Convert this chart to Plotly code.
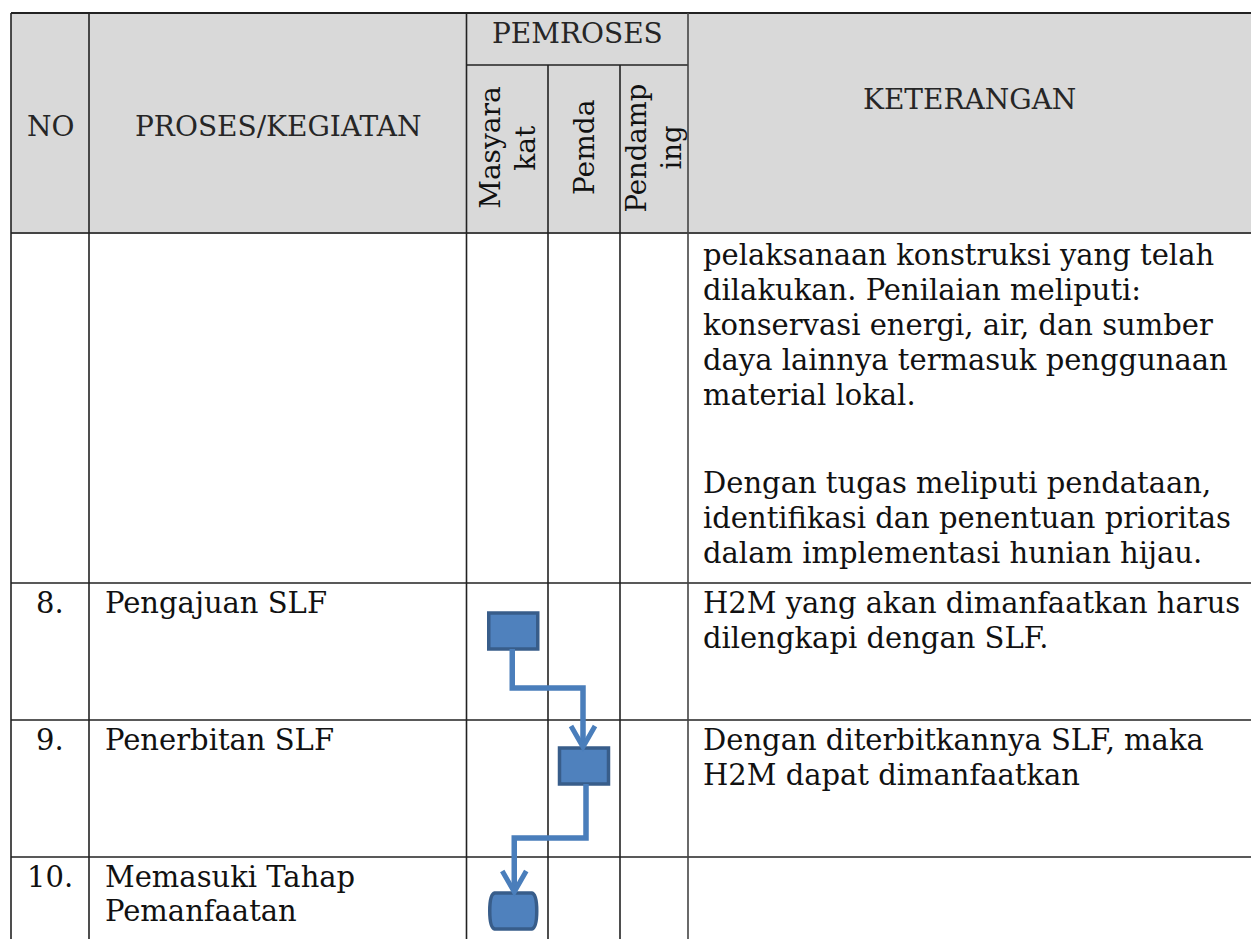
import plotly.graph_objects as go

# ---------------- data ----------------
header_no = "NO"
header_process = "PROSES/KEGIATAN"
header_group = "PEMROSES"
lanes = [["Masyara", "kat"], ["Pemda"], ["Pendamp", "ing"]]
header_ket = "KETERANGAN"

row_numbers = ["", "8.", "9.", "10."]
row_process = [[], ["Pengajuan SLF"], ["Penerbitan SLF"], ["Memasuki Tahap", "Pemanfaatan"]]
row_keterangan = [
    [["pelaksanaan konstruksi yang telah",
      "dilakukan. Penilaian meliputi:",
      "konservasi energi, air, dan sumber",
      "daya lainnya termasuk penggunaan",
      "material lokal."],
     ["Dengan tugas meliputi pendataan,",
      "identifikasi dan penentuan prioritas",
      "dalam implementasi hunian hijau."]],
    [["H2M yang akan dimanfaatkan harus",
      "dilengkapi dengan SLF."]],
    [["Dengan diterbitkannya SLF, maka",
      "H2M dapat dimanfaatkan"]],
    [[]],
]
# flow steps: (row index, lane index, kind)
flow_rows = [1, 2, 3]
flow_lanes = [0, 1, 0]
flow_kinds = ["process", "process", "terminal"]

# ---------------- layout constants ----------------
W, H = 1251, 939
col_x = [11, 89, 466.5, 548, 620, 688, 1251]
top_y, group_y, head_y = 13, 65, 233
row_y = [233, 583, 720, 857, 939]
FONT = "DejaVu Serif"
FS = 29
HFS = 28
LINE_H = 35
TXT = "#111111"
HTXT = "#262626"
GRID = "#222222"
BOX_FILL = "#4f81bd"
BOX_LINE = "#385d8a"
CONN = "#4a7ebb"

shapes = []
ann = []

# header background
shapes.append(dict(type="rect", x0=col_x[0], x1=W, y0=top_y, y1=head_y,
                   fillcolor="#d9d9d9", line=dict(width=0), layer="below"))

def hline(y, x0, x1, w=1.6, c=GRID):
    shapes.append(dict(type="line", x0=x0, x1=x1, y0=y, y1=y, line=dict(color=c, width=w)))

def vline(x, y0, y1, w=1.6, c=GRID):
    shapes.append(dict(type="line", x0=x, x1=x, y0=y0, y1=y1, line=dict(color=c, width=w)))

hline(top_y, col_x[0], W, 2)
hline(group_y, col_x[2], col_x[5])
for y in row_y[:-1]:
    hline(y, col_x[0], W, 2 if y == head_y else 1.6, "#444444" if y == head_y else GRID)
for i, x in enumerate(col_x[:-1]):
    y0 = group_y if i in (3, 4) else top_y
    vline(x, y0, H, 1.6, "#444444" if i == 5 else GRID)

def text(x, y, s, size=FS, xanchor="left", angle=0, color=TXT):
    ann.append(dict(x=x, y=y, xref="x", yref="y", text=s, showarrow=False,
                    xanchor=xanchor, yanchor="middle", textangle=angle,
                    font=dict(family=FONT, size=size, color=color)))

# header texts
text((col_x[0] + col_x[1]) / 2, 126, header_no, HFS, "center", color=HTXT)
text((col_x[1] + col_x[2]) / 2, 126, header_process, HFS, "center", color=HTXT)
text((col_x[2] + col_x[5]) / 2, 33, header_group, HFS, "center", color=HTXT)
text((col_x[5] + W) / 2, 99, header_ket, HFS, "center", color=HTXT)
lane_line_gap = 35
lane_font = [28, 28, 27.5]
for li, lines in enumerate(lanes):
    cx = (col_x[2 + li] + col_x[3 + li]) / 2
    n = len(lines)
    for k, s in enumerate(lines):
        x = cx + (k - (n - 1) / 2) * lane_line_gap - (1 if li == 2 else 0)
        text(x, 148, s, lane_font[li], "center", angle=-90)

# body rows
for r in range(len(row_numbers)):
    top = row_y[r]
    first = top + 20
    if row_numbers[r]:
        text((col_x[0] + col_x[1]) / 2, first, row_numbers[r], FS, "center")
    for k, s in enumerate(row_process[r]):
        text(col_x[1] + 14, first + k * 34, s, FS)
    y = first + (2 if r == 0 else 0)
    for pi, para in enumerate(row_keterangan[r]):
        if pi > 0:
            y += LINE_H * 1.5
        for s in para:
            text(col_x[5] + 13, y, s, FS)
            y += LINE_H

# flowchart
box_w, box_h = 49, 36
box_top_off = [30, 28, 36]
lane_dx = [6, 0, 0]
mid_off = [-32, -19]
centers = []
for i, (r, l, kind) in enumerate(zip(flow_rows, flow_lanes, flow_kinds)):
    cx = (col_x[2 + l] + col_x[3 + l]) / 2 + lane_dx[l]
    y0 = row_y[r] + box_top_off[i]
    y1 = y0 + box_h
    x0, x1 = cx - box_w / 2, cx + box_w / 2
    centers.append((cx, y0, y1))
    if kind == "process":
        shapes.append(dict(type="rect", x0=x0, x1=x1, y0=y0, y1=y1,
                           fillcolor=BOX_FILL, line=dict(color=BOX_LINE, width=3.5)))
    else:
        x0 += 2; x1 -= 2
        ym = (y0 + y1) / 2
        path = (f"M{x0+4},{y0} L{x1-4},{y0} Q{x1+1},{y0+1} {x1+1},{ym} "
                f"Q{x1+1},{y1-1} {x1-4},{y1} L{x0+4},{y1} "
                f"Q{x0-1},{y1-1} {x0-1},{ym} Q{x0-1},{y0+1} {x0+4},{y0} Z")
        shapes.append(dict(type="path", path=path, fillcolor=BOX_FILL,
                           line=dict(color=BOX_LINE, width=3.5)))

for i in range(len(centers) - 1):
    sx, _, sy = centers[i]
    ex, ey, _ = centers[i + 1]
    r_next = flow_rows[i + 1]
    midy = row_y[r_next] + mid_off[i]
    ex_adj = ex - 1 if i == 0 else ex + 1
    sx_adj = sx - 1 if i == 0 else sx + 2
    shapes.append(dict(type="path",
                       path=f"M{sx_adj},{sy} L{sx_adj},{midy} L{ex_adj},{midy} L{ex_adj},{ey - 2}",
                       line=dict(color=CONN, width=5.5)))
    shapes.append(dict(type="path",
                       path=f"M{ex_adj-12},{ey-22} L{ex_adj},{ey-1} L{ex_adj+12},{ey-22}",
                       line=dict(color=CONN, width=5)))

fig = go.Figure()
fig.update_layout(
    width=W, height=H, margin=dict(l=0, r=0, t=0, b=0),
    paper_bgcolor="white", plot_bgcolor="white",
    xaxis=dict(range=[0, W], visible=False, fixedrange=True),
    yaxis=dict(range=[H, 0], visible=False, fixedrange=True),
    shapes=shapes, annotations=ann, showlegend=False,
)
fig.write_html("out.html", config={"displayModeBar": False},
               post_script="document.body.style.margin='0';document.body.style.overflow='hidden';")
